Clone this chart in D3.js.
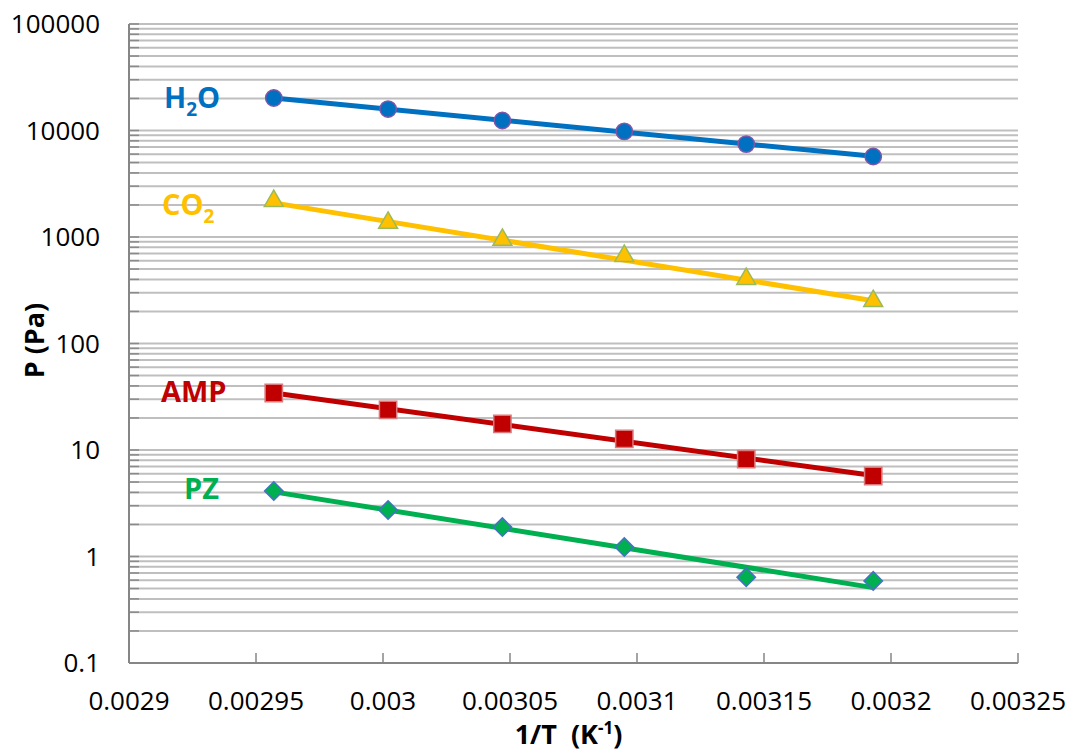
<!DOCTYPE html>
<html>
<head>
<meta charset="utf-8">
<script src="https://cdn.jsdelivr.net/npm/d3@7"></script>
<style>
  body { margin: 0; background: #fff; }
  text { font-family: "Open Sans", sans-serif; }
</style>
</head>
<body>
<div id="main"></div>
<script>
// 1/T values (K^-1), i.e. 65, 60, 55, 50, 45, 40 degC
var invT = [0.002957, 0.003002, 0.003047, 0.003095, 0.003143, 0.003193];

// vapour pressures (Pa)
var h2o = [20200, 15900, 12400, 9800, 7450, 5700];
var co2 = [2130, 1330, 920, 650, 395, 245];
var amp = [34.3, 23.8, 17.6, 12.7, 8.2, 5.7];
var pz  = [4.12, 2.73, 1.89, 1.23, 0.64, 0.59];

var xTicks = [0.0029, 0.00295, 0.003, 0.00305, 0.0031, 0.00315, 0.0032, 0.00325];
var yTicks = [0.1, 1, 10, 100, 1000, 10000, 100000];

var series = [
  {name: "H2O", values: h2o, color: "#0070C0", stroke: "#7E57A8", shape: "circle", label: ["H", "2", "O"], lx: 164, ly: 108},
  {name: "CO2", values: co2, color: "#FFC000", stroke: "#9BBB59", shape: "triangle", label: ["CO", "2", ""], lx: 162, ly: 215},
  {name: "AMP", values: amp, color: "#C00000", stroke: "#D9797B", shape: "square", label: ["AMP", "", ""], lx: 161, ly: 402},
  {name: "PZ",  values: pz,  color: "#00B050", stroke: "#4472C4", shape: "diamond", label: ["PZ", "", ""], lx: 184, ly: 499}
];

var W = 1069, H = 755;
var margin = {top: 24, right: 51, bottom: 92, left: 129},
    width = W - margin.left - margin.right,
    height = H - margin.top - margin.bottom;

var svg = d3.select("#main")
  .append("svg")
    .attr("width", W)
    .attr("height", H)
  .append("g")
    .attr("transform", "translate(" + margin.left + "," + margin.top + ")");

var x = d3.scaleLinear().domain([0.0029, 0.00325]).range([0, width]);
var y = d3.scaleLog().domain([0.1, 100000]).range([height, 0]);

// minor log positions 1..9 per decade
var minor = [];
for (var e = -1; e < 5; e++) {
  for (var m = 1; m <= 9; m++) minor.push(m * Math.pow(10, e));
}
minor.push(100000);

// gridlines
svg.append("g").selectAll("line")
  .data(minor.filter(function(d) { return d > 0.1; }))
  .enter().append("line")
    .attr("x1", 0).attr("x2", width)
    .attr("y1", function(d) { return y(d); })
    .attr("y2", function(d) { return y(d); })
    .attr("stroke", "#bfbfbf")
    .attr("stroke-width", 2);

// left axis with inward minor ticks
svg.append("g").selectAll("line")
  .data(minor)
  .enter().append("line")
    .attr("x1", 0).attr("x2", 10)
    .attr("y1", function(d) { return y(d); })
    .attr("y2", function(d) { return y(d); })
    .attr("stroke", "#8a8a8a")
    .attr("stroke-width", 1.5);

svg.append("line")
  .attr("x1", 0).attr("x2", 0).attr("y1", 0).attr("y2", height)
  .attr("stroke", "#868686").attr("stroke-width", 2);

svg.append("g").selectAll("text")
  .data(yTicks)
  .enter().append("text")
    .attr("x", -29)
    .attr("y", function(d) { return y(d); })
    .attr("dy", "0.36em")
    .attr("text-anchor", "end")
    .attr("font-size", 26)
    .attr("fill", "#000")
    .text(function(d) { return String(d); });

// bottom axis
svg.append("line")
  .attr("x1", 0).attr("x2", width).attr("y1", height).attr("y2", height)
  .attr("stroke", "#868686").attr("stroke-width", 2);

svg.append("g").selectAll("line")
  .data(xTicks)
  .enter().append("line")
    .attr("x1", function(d) { return x(d); })
    .attr("x2", function(d) { return x(d); })
    .attr("y1", height).attr("y2", height - 10)
    .attr("stroke", "#868686").attr("stroke-width", 1.5);

svg.append("g").selectAll("text")
  .data(xTicks)
  .enter().append("text")
    .attr("x", function(d) { return x(d); })
    .attr("y", height + 47)
    .attr("text-anchor", "middle")
    .attr("font-size", 26)
    .attr("fill", "#000")
    .text(function(d) { return String(+d.toFixed(5)); });

// axis titles
svg.append("text")
  .attr("transform", "translate(-85," + (y(100) - 3) + ") rotate(-90)")
  .attr("text-anchor", "middle")
  .attr("font-size", 27)
  .attr("font-weight", "bold")
  .text("P (Pa)");

var xt = svg.append("text")
  .attr("x", width / 2 - 5)
  .attr("y", height + 81)
  .attr("text-anchor", "middle")
  .attr("font-size", 27)
  .attr("font-weight", "bold")
  .attr("xml:space", "preserve");
xt.append("tspan").text("1/T  (K");
xt.append("tspan").attr("dy", -10).attr("font-size", 17).text("-1");
xt.append("tspan").attr("dy", 10).text(")");

// exponential trendline: least squares on log10(P)
function fit(xs, ys) {
  var n = xs.length, lx = d3.mean(xs), ly = d3.mean(ys, function(v) { return Math.log10(v); });
  var sxy = 0, sxx = 0;
  for (var i = 0; i < n; i++) {
    sxy += (xs[i] - lx) * (Math.log10(ys[i]) - ly);
    sxx += (xs[i] - lx) * (xs[i] - lx);
  }
  var b = sxy / sxx;
  return function(v) { return Math.pow(10, ly + b * (v - lx)); };
}

var symbols = {
  circle: d3.symbol().type(d3.symbolCircle).size(210),
  triangle: d3.symbol().type(d3.symbolTriangle).size(155),
  square: d3.symbol().type(d3.symbolSquare).size(300),
  diamond: d3.symbol().type(d3.symbolSquare).size(170)
};

series.forEach(function(s) {
  var f = fit(invT, s.values);
  var ends = [invT[0], invT[invT.length - 1]];
  svg.append("path")
    .datum(ends)
    .attr("fill", "none")
    .attr("stroke", s.color)
    .attr("stroke-width", 5)
    .attr("d", d3.line()
      .x(function(d) { return x(d); })
      .y(function(d) { return y(f(d)); }));

  svg.append("g").selectAll("path")
    .data(s.values)
    .enter().append("path")
      .attr("d", symbols[s.shape])
      .attr("transform", function(d, i) {
        var t = "translate(" + x(invT[i]) + "," + y(d) + ")";
        if (s.shape === "diamond") t += " rotate(45)";
        if (s.shape === "triangle") t += " translate(0,-1)";
        return t;
      })
      .attr("fill", s.color)
      .attr("stroke", s.stroke)
      .attr("stroke-width", 1.5);

  var lab = svg.append("text")
    .attr("x", s.lx - margin.left)
    .attr("y", s.ly - margin.top)
    .attr("font-size", 29)
    .attr("font-weight", "bold")
    .attr("fill", s.color);
  lab.append("tspan").text(s.label[0]);
  if (s.label[1]) {
    lab.append("tspan").attr("dy", 8).attr("font-size", 19).text(s.label[1]);
    lab.append("tspan").attr("dy", -8).text(s.label[2]);
  }
});
</script>
</body>
</html>
